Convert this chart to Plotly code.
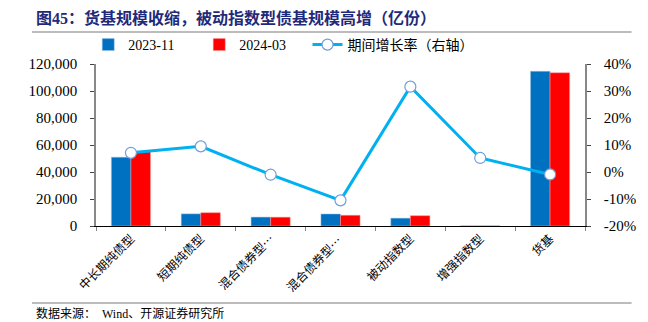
import plotly.graph_objects as go

categories = ["中长期纯债型", "短期纯债型", "混合债券型…", "混合债券型… ", "被动指数型", "增强指数型", "货基"]
vals_2023_11 = [51000, 9000, 6600, 8900, 5800, 150, 114600]
vals_2024_03 = [55000, 9850, 6530, 7960, 7630, 158, 113500]
growth_pct = [7.1, 9.5, -1.0, -10.5, 31.6, 5.2, -0.9]

left_ticks = [0, 20000, 40000, 60000, 80000, 100000, 120000]
right_ticks = [-20, -10, 0, 10, 20, 30, 40]
right_labels = [f"{v}%" for v in right_ticks]

FONT = "Liberation Serif, Noto Sans CJK SC"

fig = go.Figure()
fig.add_trace(go.Bar(x=categories, y=vals_2023_11, name="2023-11",
                     marker=dict(color="#0070C0", line=dict(color="#9DC3E6", width=0.5))))
fig.add_trace(go.Bar(x=categories, y=vals_2024_03, name="2024-03",
                     marker=dict(color="#FF0000", line=dict(color="#FF9999", width=0.5))))
fig.add_trace(go.Scatter(x=categories, y=growth_pct, name="期间增长率（右轴）", yaxis="y2",
                         mode="lines+markers", legend="legend2",
                         line=dict(color="#00B0F0", width=3),
                         marker=dict(size=11, color="white", line=dict(color="#6F9FD8", width=1.2))))

W, H = 648, 322
L, R, T, B = 96, 48, 64, 96
pw, ph = W - L - R, H - T - B

def px(x):
    return (x - L) / pw

def py(y):
    return (H - B - y) / ph

fig.update_layout(
    width=W, height=H,
    margin=dict(l=L, r=R, t=T, b=B),
    paper_bgcolor="white", plot_bgcolor="white",
    font=dict(family=FONT, size=12, color="#000000"),
    barmode="group", bargap=0.44, bargroupgap=0,
    showlegend=True,
    legend=dict(orientation="h", x=px(88), y=py(45), xanchor="left", yanchor="middle",
                font=dict(size=14, family=FONT), itemwidth=30, traceorder="normal",
                bgcolor="rgba(0,0,0,0)", entrywidth=66),
    legend2=dict(orientation="h", x=px(314), y=py(45), xanchor="left", yanchor="middle",
                 font=dict(size=14, family=FONT), itemwidth=30,
                 bgcolor="rgba(0,0,0,0)"),
    xaxis=dict(type="category", tickangle=-45, showline=True, linecolor="#000000", linewidth=1,
               ticks="outside", tickson="boundaries", ticklen=4, tickcolor="#888888",
               tickfont=dict(size=12, family="Noto Sans CJK SC"),
               showgrid=False),
    yaxis=dict(range=[0, 120000], tickvals=left_ticks, tickformat=",d", showline=True,
               linecolor="#888888", linewidth=1.5, ticks="outside", ticklen=4, tickcolor="#444444",
               showgrid=False, zeroline=False, tickfont=dict(size=15, family=FONT),
               ticklabelstandoff=10),
    yaxis2=dict(range=[-20, 40], tickvals=right_ticks, ticktext=right_labels, overlaying="y", side="right",
                showline=True, linecolor="#888888", linewidth=1.5, ticks="outside", ticklen=4,
                tickcolor="#444444", showgrid=False, zeroline=False, tickfont=dict(size=15, family=FONT),
                ticklabelstandoff=10),
)

fig.add_annotation(text="<b>图45：货基规模收缩，被动指数型债基规模高增（亿份）</b>",
                   xref="paper", yref="paper", x=px(32), y=py(18), xanchor="left", yanchor="middle",
                   showarrow=False, font=dict(size=16, color="#1F2A7A", family=FONT))
fig.add_annotation(text="数据来源：  Wind、开源证券研究所",
                   xref="paper", yref="paper", x=px(32), y=py(313), xanchor="left", yanchor="middle",
                   showarrow=False, font=dict(size=12, color="#000000", family=FONT))
fig.add_shape(type="line", xref="paper", yref="paper", x0=px(30), x1=px(648), y0=py(32), y1=py(32),
              line=dict(color="#A6A6A6", width=1.5))
fig.add_shape(type="line", xref="paper", yref="paper", x0=px(30), x1=px(648), y0=py(303), y1=py(303),
              line=dict(color="#A6A6A6", width=1.5))

fig.write_html("out.html")
